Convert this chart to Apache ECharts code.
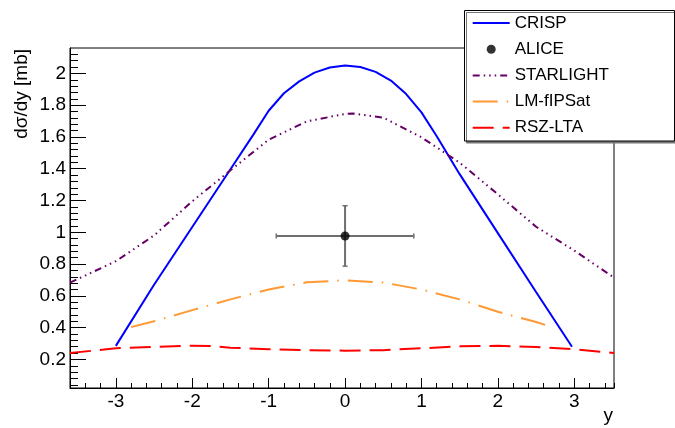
<!DOCTYPE html>
<html><head><meta charset="utf-8">
<script src="https://cdn.jsdelivr.net/npm/echarts@6/dist/echarts.min.js"></script>
<style>html,body{margin:0;padding:0;background:#fff}#c{width:675px;height:428px}</style>
</head><body><div id="c"></div>
<script>
// ---- data ----
const crispX = [-3.0, -2.5, -2.0, -1.5, -1.2, -1.0, -0.8, -0.6, -0.4, -0.2, 0.0, 0.2, 0.4, 0.6, 0.8, 1.0, 1.2, 1.5, 2.0, 2.5, 2.97];
const crispY = [0.285, 0.67, 1.033, 1.397, 1.615, 1.765, 1.875, 1.95, 2.005, 2.037, 2.05, 2.04, 2.01, 1.955, 1.87, 1.755, 1.605, 1.366, 0.995, 0.624, 0.28];

const starX = [-3.6, -3.0, -2.5, -2.0, -1.5, -1.0, -0.5, 0.0, 0.1, 0.5, 1.0, 1.5, 2.0, 2.5, 3.0, 3.52];
const starY = [0.683, 0.818, 0.98, 1.195, 1.39, 1.583, 1.698, 1.745, 1.748, 1.722, 1.598, 1.438, 1.239, 1.035, 0.885, 0.715];

const lmX = [-2.8, -2.5, -2.0, -1.5, -1.0, -0.5, 0.0, 0.5, 1.0, 1.5, 2.0, 2.5, 2.7];
const lmY = [0.403, 0.44, 0.51, 0.578, 0.64, 0.685, 0.698, 0.684, 0.64, 0.578, 0.50, 0.435, 0.405];

const rszX = [-3.6, -3.0, -2.5, -2.0, -1.75, -1.5, -1.0, -0.5, 0.0, 0.5, 1.0, 1.5, 2.0, 2.5, 3.0, 3.52];
const rszY = [0.24, 0.27, 0.278, 0.286, 0.285, 0.274, 0.264, 0.258, 0.255, 0.258, 0.27, 0.282, 0.286, 0.278, 0.264, 0.24];

const aliceX = [0.0];
const aliceY = [0.977];
const aliceXErr = [0.9];
const aliceYErr = [0.19];

const seriesNames = ['CRISP', 'ALICE', 'STARLIGHT', 'LM-fIPSat', 'RSZ-LTA'];
const xTitle = 'y';
const yTitle = 'dσ/dy [mb]';

// ---- axis ranges ----
const xMin = -3.6, xMax = 3.52;
const yMin = 0.02, yMax = 2.16;
const yMinorMin = 0.04, yMinorMax = 2.12, yMinorStep = 0.04;
const xMinorStep = 0.2;

// ---- layout ----
const G = {left: 70, right: 61, top: 48, bottom: 40};
const H = 428;
const pxPerY = (H - G.top - G.bottom) / (yMax - yMin);
const FONT = '"Liberation Sans", Arial, Helvetica, sans-serif';

function zip(a, b) { return a.map((v, i) => [v, b[i]]); }

const chart = echarts.init(document.getElementById('c'), null, {renderer: 'canvas'});

const lineSeries = (name, xs, ys, color, dash) => ({
  name, type: 'line', xAxisIndex: 0, yAxisIndex: 0,
  data: zip(xs, ys), symbol: 'none', smooth: false, z: 2,
  lineStyle: {color, width: 2, type: dash},
  itemStyle: {color}
});

const option = {
  animation: false,
  backgroundColor: '#fff',
  grid: [
    Object.assign({show: true, borderColor: '#000', borderWidth: 1, backgroundColor: 'transparent', outerBoundsMode: 'none', containLabel: false}, G),
    {left: G.left, right: G.right, top: G.top + (yMax - yMinorMax) * pxPerY, bottom: G.bottom + (yMinorMin - yMin) * pxPerY, outerBoundsMode: 'none', containLabel: false},
    Object.assign({outerBoundsMode: 'none', containLabel: false}, G)
  ],
  xAxis: [
    {type: 'value', gridIndex: 0, min: xMin, max: xMax, position: 'bottom',
     axisLine: {show: true, onZero: false, lineStyle: {color: '#000', width: 1}},
     axisTick: {show: true, inside: true, length: 10, lineStyle: {color: '#000', width: 1}},
     axisLabel: {show: true, margin: 4, color: '#000', fontSize: 19, fontFamily: FONT, showMinLabel: false, showMaxLabel: false},
     splitLine: {show: false}},
    {type: 'value', gridIndex: 1, show: false, min: xMin, max: xMax},
    {type: 'value', gridIndex: 2, min: xMin, max: xMax, interval: xMinorStep, position: 'bottom',
     axisLine: {show: false, onZero: false},
     axisTick: {show: true, inside: true, length: 5, lineStyle: {color: '#000', width: 1}},
     axisLabel: {show: false}, splitLine: {show: false}}
  ],
  yAxis: [
    {type: 'value', gridIndex: 0, min: yMin, max: yMax, splitNumber: 10, position: 'left',
     axisLine: {show: true, onZero: false, lineStyle: {color: '#000', width: 1}},
     axisTick: {show: true, inside: true, length: 16, lineStyle: {color: '#000', width: 1}},
     axisLabel: {show: true, margin: 4, color: '#000', fontSize: 19, fontFamily: FONT, showMinLabel: false, showMaxLabel: false},
     splitLine: {show: false}},
    {type: 'value', gridIndex: 1, min: yMinorMin, max: yMinorMax, interval: yMinorStep, position: 'left',
     axisLine: {show: false, onZero: false},
     axisTick: {show: true, inside: true, length: 8, lineStyle: {color: '#000', width: 1}},
     axisLabel: {show: false}, splitLine: {show: false}},
    {type: 'value', gridIndex: 2, show: false, min: yMin, max: yMax}
  ],
  legend: {
    orient: 'vertical', left: 471.7, top: 13, padding: 0,
    itemWidth: 37, itemHeight: 9, itemGap: 6.2, itemTextGap: 9,
    selectedMode: false, z: 6,
    textStyle: {fontSize: 17, lineHeight: 20, color: '#000', fontFamily: FONT},
    data: [
      {name: seriesNames[0], itemStyle: {opacity: 0}},
      {name: seriesNames[1], icon: 'circle'},
      {name: seriesNames[2], itemStyle: {opacity: 0}},
      {name: seriesNames[3], itemStyle: {opacity: 0}},
      {name: seriesNames[4], itemStyle: {opacity: 0}}
    ]
  },
  graphic: [
    {type: 'rect', z: 5, shape: {x: 464.5, y: 10.5, width: 210, height: 130.5},
     style: {fill: '#fff', stroke: '#000', lineWidth: 1, shadowColor: '#777', shadowOffsetX: 2, shadowOffsetY: 2, shadowBlur: 0}},
    {type: 'text', z: 5, x: 21.5, y: 49, rotation: Math.PI / 2,
     style: {text: yTitle, fontSize: 19, fontFamily: FONT, fill: '#000', align: 'right', verticalAlign: 'middle'}},
    {type: 'text', z: 5, x: 613, y: 416,
     style: {text: xTitle, fontSize: 19, fontFamily: FONT, fill: '#000', align: 'right', verticalAlign: 'middle'}}
  ],
  series: [
    lineSeries(seriesNames[0], crispX, crispY, '#0000ff', 'solid'),
    {name: seriesNames[1], type: 'scatter', xAxisIndex: 0, yAxisIndex: 0,
     data: zip(aliceX, aliceY), symbol: 'circle', symbolSize: 9, z: 4,
     itemStyle: {color: '#000'}},
    lineSeries(seriesNames[2], starX, starY, '#660066', [7, 4, 1.5, 4, 1.5, 4, 1.5, 4]),
    lineSeries(seriesNames[3], lmX, lmY, '#ff9933', [25, 9, 1.5, 9]),
    lineSeries(seriesNames[4], rszX, rszY, '#ff0000', [21, 9]),
    {name: 'ALICE-err', type: 'custom', xAxisIndex: 0, yAxisIndex: 0, z: 3,
     data: aliceX.map((x, i) => [x, aliceY[i], aliceXErr[i], aliceYErr[i]]),
     encode: {x: 0, y: 1},
     renderItem: function (params, api) {
       const x = api.value(0), y = api.value(1), ex = api.value(2), ey = api.value(3);
       const L = api.coord([x - ex, y]), R = api.coord([x + ex, y]);
       const T = api.coord([x, y + ey]), B = api.coord([x, y - ey]);
       const st = {stroke: '#6e6e6e', lineWidth: 2};
       const cs = {stroke: '#6e6e6e', lineWidth: 1.5};
       const c = 2.5;
       return {type: 'group', children: [
         {type: 'line', shape: {x1: L[0], y1: L[1], x2: R[0], y2: R[1]}, style: st},
         {type: 'line', shape: {x1: T[0], y1: T[1], x2: B[0], y2: B[1]}, style: st},
         {type: 'line', shape: {x1: L[0], y1: L[1] - c, x2: L[0], y2: L[1] + c}, style: cs},
         {type: 'line', shape: {x1: R[0], y1: R[1] - c, x2: R[0], y2: R[1] + c}, style: cs},
         {type: 'line', shape: {x1: T[0] - c, y1: T[1], x2: T[0] + c, y2: T[1]}, style: cs},
         {type: 'line', shape: {x1: B[0] - c, y1: B[1], x2: B[0] + c, y2: B[1]}, style: cs}
       ]};
     }}
  ]
};
chart.setOption(option);
</script>
</body></html>
